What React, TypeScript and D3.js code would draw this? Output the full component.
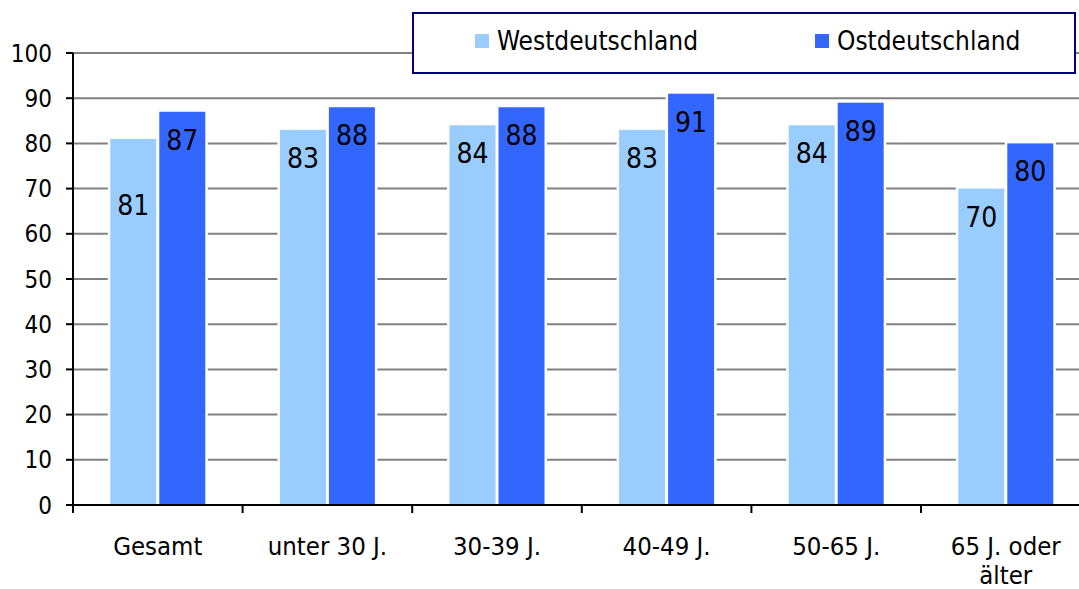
import React from "react";
import * as d3 from "d3";

const categories: string[][] = [
  ["Gesamt"],
  ["unter 30 J."],
  ["30-39 J."],
  ["40-49 J."],
  ["50-65 J."],
  ["65 J. oder", "älter"],
];
const westValues = [81, 83, 84, 83, 84, 70];
const eastValues = [87, 88, 88, 91, 89, 80];
const seriesNames = ["Westdeutschland", "Ostdeutschland"];
const yTicks = [0, 10, 20, 30, 40, 50, 60, 70, 80, 90, 100];

const W = 1079;
const H = 589;
const FONT = "'DejaVu Sans Condensed', 'DejaVu Sans', sans-serif";
const WEST = "#99CCFF";
const EAST = "#3366FF";

export default function App() {
  const left = 73;
  const catW = 169.6;
  const keys = categories.map((c) => c.join(" "));
  const x = d3.scaleBand<string>().domain(keys).range([left, left + catW * keys.length]).padding(0);
  const y = d3.scaleLinear().domain([0, 100]).range([505, 53]);
  const barW = 46;
  const gap = 3;
  const pairW = barW * 2 + gap;
  const series = [westValues, eastValues];
  const colors = [WEST, EAST];
  const labelNudge: Record<string, number> = { "0-0": 38 };

  return (
    <svg width={W} height={H} style={{ position: "absolute", left: 0, top: 0, background: "#fff" }}>
      <rect x={0} y={0} width={W} height={H} fill="#fff" />
      {yTicks.filter((t) => t > 0).map((t) => (
        <line key={t} x1={left} x2={left + catW * 6} y1={y(t)} y2={y(t)} stroke="#808080" strokeWidth={2} />
      ))}
      {keys.map((k, i) => {
        const x0 = (x(k) as number) + (x.bandwidth() - pairW) / 2;
        return series.map((vals, s) => {
          const bx = x0 + s * (barW + gap);
          const by = y(vals[i]);
          return (
            <g key={k + s}>
              <rect x={bx - 2.5} y={by - 2.5} width={barW + 5} height={y(0) - by + 2.5} fill="#fff" />
              <rect x={bx} y={by} width={barW} height={y(0) - by} fill={colors[s]} />
            </g>
          );
        });
      })}
      {keys.map((k, i) => {
        const x0 = (x(k) as number) + (x.bandwidth() - pairW) / 2;
        return series.map((vals, s) => {
          const cx = x0 + s * (barW + gap) + barW / 2;
          const cy = y(vals[i]) + 28 + (labelNudge[`${i}-${s}`] || 0);
          return (
            <text key={k + "l" + s} x={cx} y={cy} dy="0.36em" textAnchor="middle" fontFamily={FONT}
              fontStretch="condensed" fontSize={28} fill="#000">
              {vals[i]}
            </text>
          );
        });
      })}
      <line x1={left} x2={left} y1={y(100)} y2={y(0) + 8} stroke="#000" strokeWidth={2} />
      {yTicks.map((t) => (
        <g key={"yt" + t}>
          <line x1={left - 7} x2={left} y1={y(t)} y2={y(t)} stroke="#000" strokeWidth={2} />
          <text x={52} y={y(t)} dy="0.36em" textAnchor="end" fontFamily={FONT} fontStretch="condensed"
            fontSize={24} fill="#000">
            {t}
          </text>
        </g>
      ))}
      <line x1={left} x2={left + catW * 6} y1={y(0)} y2={y(0)} stroke="#000" strokeWidth={2} />
      {keys.map((k, i) => (
        <line key={"xt" + i} x1={x(k) as number} x2={x(k) as number} y1={y(0)} y2={y(0) + 8} stroke="#000" strokeWidth={2} />
      ))}
      {keys.map((k, i) => (
        <text key={"xl" + i} textAnchor="middle" fontFamily={FONT} fontStretch="condensed" fontSize={25.5} fill="#000">
          {categories[i].map((line, j) => (
            <tspan key={j} x={(x(k) as number) + x.bandwidth() / 2} y={555 + j * 29}>
              {line}
            </tspan>
          ))}
        </text>
      ))}
      <rect x={413} y={13} width={662} height={60} fill="#fff" stroke="#000080" strokeWidth={2} />
      {seriesNames.map((n, s) => {
        const lx = s === 0 ? 475 : 815;
        return (
          <g key={n}>
            <rect x={lx} y={34} width={14} height={14} fill={colors[s]} />
            <text x={lx + 22} y={50} fontFamily={FONT} fontStretch="condensed" fontSize={26} fill="#000">
              {n}
            </text>
          </g>
        );
      })}
    </svg>
  );
}
